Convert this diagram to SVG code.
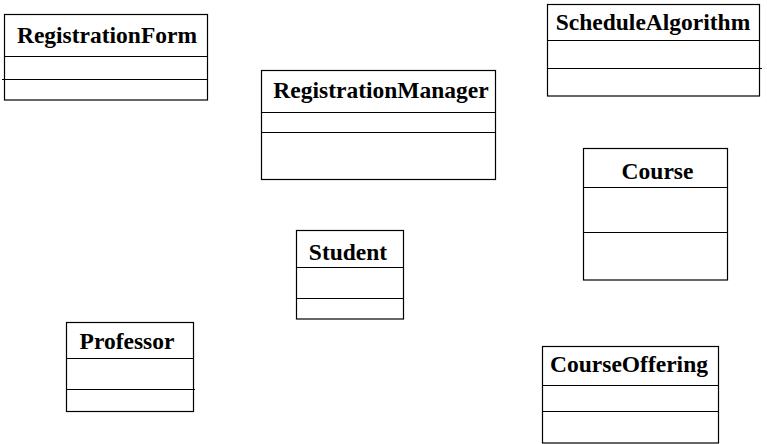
<svg xmlns="http://www.w3.org/2000/svg" width="767" height="444" viewBox="0 0 767 444">
<style>
.box{fill:#fff;stroke:#000;stroke-width:1.2}
.sep{stroke:#000;stroke-width:1.2}
.t{font-family:'Liberation Serif','Times New Roman','DejaVu Serif',serif;font-weight:700;font-size:23.5px;fill:#000;text-anchor:middle}
</style>
<rect width="767" height="444" fill="#fff"/>
<g id="RegistrationForm">
<rect class="box" x="4.5" y="14.5" width="203" height="85.5"/>
<line class="sep" x1="4.5" y1="56.5" x2="207.5" y2="56.5"/>
<line class="sep" x1="2" y1="79.5" x2="207.5" y2="79.5"/>
<text class="t" x="107" y="43">RegistrationForm</text>
</g>
<g id="RegistrationManager">
<rect class="box" x="261.5" y="70.5" width="234" height="109"/>
<line class="sep" x1="261.5" y1="112.5" x2="495.5" y2="112.5"/>
<line class="sep" x1="261.5" y1="132.5" x2="495.5" y2="132.5"/>
<text class="t" x="381" y="97.5">RegistrationManager</text>
</g>
<g id="ScheduleAlgorithm">
<rect class="box" x="547.5" y="4.5" width="212" height="91.5"/>
<line class="sep" x1="547.5" y1="40.5" x2="759.5" y2="40.5"/>
<line class="sep" x1="547.5" y1="68.5" x2="762" y2="68.5"/>
<text class="t" x="653" y="30">ScheduleAlgorithm</text>
</g>
<g id="Course">
<rect class="box" x="583.5" y="148.5" width="144" height="131.5"/>
<line class="sep" x1="583.5" y1="187.5" x2="727.5" y2="187.5"/>
<line class="sep" x1="583.5" y1="232.5" x2="727.5" y2="232.5"/>
<text class="t" x="657.5" y="179">Course</text>
</g>
<g id="Student">
<rect class="box" x="296.5" y="230.5" width="107" height="88.5"/>
<line class="sep" x1="296.5" y1="267.5" x2="403.5" y2="267.5"/>
<line class="sep" x1="296.5" y1="298.5" x2="403.5" y2="298.5"/>
<text class="t" x="348" y="259.5">Student</text>
</g>
<g id="Professor">
<rect class="box" x="66.5" y="322.5" width="127" height="89"/>
<line class="sep" x1="66.5" y1="358.5" x2="193.5" y2="358.5"/>
<line class="sep" x1="66.5" y1="389.5" x2="195" y2="389.5"/>
<text class="t" x="127" y="349">Professor</text>
</g>
<g id="CourseOffering">
<rect class="box" x="542.5" y="346.5" width="176" height="96.5"/>
<line class="sep" x1="542.5" y1="385.5" x2="718.5" y2="385.5"/>
<line class="sep" x1="542.5" y1="411.5" x2="718.5" y2="411.5"/>
<text class="t" x="629" y="371.5">CourseOffering</text>
</g>
<g id="connectors"></g>
</svg>
